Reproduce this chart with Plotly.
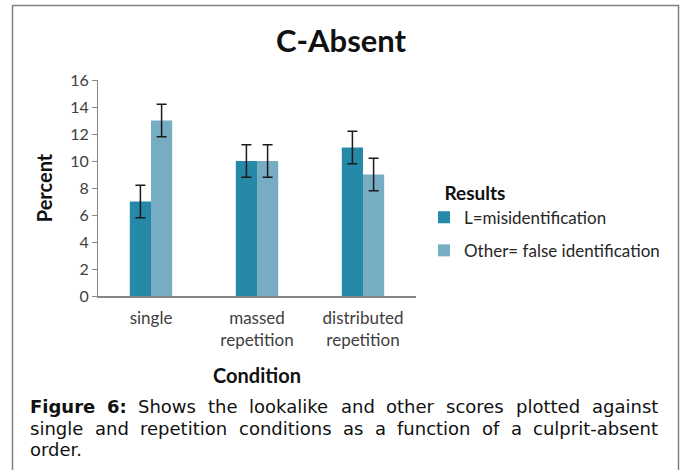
import plotly.graph_objects as go

# ---- data ----
categories = ["single", "massed<br>repetition", "distributed<br>repetition"]
series_names = ["L=misidentification", "Other= false identification"]
l_values = [7, 10, 11]
other_values = [13, 10, 9]
l_errors = [1.2, 1.2, 1.2]
other_errors = [1.2, 1.2, 1.2]
y_ticks = [0, 2, 4, 6, 8, 10, 12, 14, 16]
caption_lines = [
    "**Figure 6:** Shows the lookalike and other scores plotted against",
    "single and repetition conditions as a function of a culprit-absent",
    "order.",
]

W, H = 684, 470
PL, PR, PT, PB = 98, 416, 80, 296  # plot area in pixels


def px_x(x):
    return (x - PL) / (PR - PL)


def px_y(y):
    return (PB - y) / (PB - PT)


fig = go.Figure()
fig.add_trace(go.Bar(
    x=categories, y=l_values, name=series_names[0],
    marker=dict(color="#2689A8", line=dict(width=0)),
    error_y=dict(type="data", array=l_errors, visible=True,
                 color="#1a1a1a", thickness=1.5, width=5),
    legendgroup="a",
))
fig.add_trace(go.Bar(
    x=categories, y=other_values, name=series_names[1],
    marker=dict(color="#77ADC2", line=dict(width=0)),
    error_y=dict(type="data", array=other_errors, visible=True,
                 color="#1a1a1a", thickness=1.5, width=5),
    legendgroup="b",
))

fig.update_layout(
    width=W, height=H,
    margin=dict(l=PL, r=W - PR, t=PT, b=H - PB, autoexpand=False),
    paper_bgcolor="white", plot_bgcolor="white",
    barmode="group", bargap=0.6, bargroupgap=0,
    font=dict(family="Lato", color="#404040"),
    showlegend=True,
    legend=dict(
        x=px_x(424), y=px_y(175), xanchor="left", yanchor="top",
        title=dict(text="<b>&nbsp;&nbsp;&nbsp;&nbsp;Results</b>",
                   font=dict(family="Lato", size=19, color="#111111")),
        font=dict(family="Lato", size=17, color="#262626"),
        tracegroupgap=8, bgcolor="rgba(0,0,0,0)",
    ),
)

fig.update_yaxes(
    range=[0, 16], tickvals=y_ticks, ticks="outside", ticklen=5,
    tickcolor="#868686", showline=True, linecolor="#868686", linewidth=1,
    showgrid=False, zeroline=False,
    tickfont=dict(family="Lato", size=16, color="#404040"),
    title=dict(text="<b>Percent</b>", font=dict(family="Lato", size=20, color="#111111"),
               standoff=12),
)
fig.update_xaxes(
    showline=True, linecolor="#868686", linewidth=1.5, ticks="",
    ticklabelstandoff=6,
    tickfont=dict(family="Lato", size=17, color="#404040"),
    title=dict(text="<b>Condition</b>", font=dict(family="Lato", size=20, color="#111111"),
               standoff=20),
)

# chart title
fig.add_annotation(text="<b>C-Absent</b>", xref="paper", yref="paper",
                   x=px_x(341), y=px_y(40), xanchor="center", yanchor="middle",
                   showarrow=False, font=dict(family="Lato", size=31, color="#111111"))

# outer border
fig.add_shape(type="rect", xref="paper", yref="paper",
              x0=px_x(12.5), x1=px_x(678.5), y0=px_y(490), y1=px_y(5.5),
              line=dict(color="#7f7f7f", width=1.5), fillcolor="rgba(0,0,0,0)")

# ---- caption, justified word by word (approximate DejaVu Sans advance widths, em) ----
REG = dict(a=.613, b=.635, c=.550, d=.635, e=.615, f=.352, g=.635, h=.634, i=.278,
           k=.579, l=.278, m=.974, n=.634, o=.612, p=.635, r=.411, s=.521, t=.392,
           u=.634, w=.818, y=.592, S=.635)
REG["-"] = .361
REG["."] = .318
BOLD = dict(F=.683, i=.343, g=.716, u=.712, r=.493, e=.678)
BOLD["6"] = .696
BOLD[":"] = .400
FS = 18
X0, X1 = 30, 658
line_y = [406, 428, 450]


def word_width(word, bold):
    table = BOLD if bold else REG
    return sum(table.get(ch, .6) for ch in word) * FS


for li, line in enumerate(caption_lines):
    words = []
    bold_part = ""
    rest = line
    if line.startswith("**"):
        end = line.index("**", 2)
        bold_part = line[2:end]
        rest = line[end + 2:]
    for w in bold_part.split():
        words.append((w, True))
    for w in rest.split():
        words.append((w, False))
    widths = [word_width(w, b) for w, b in words]
    last = li == len(caption_lines) - 1
    if last or len(words) < 2:
        gap = 0.318 * FS
    else:
        gap = (X1 - X0 - sum(widths)) / (len(words) - 1)
    x = X0
    for (w, b), wd in zip(words, widths):
        fig.add_annotation(text=f"<b>{w}</b>" if b else w, xref="paper", yref="paper",
                           x=px_x(x), y=px_y(line_y[li]), xanchor="left", yanchor="middle",
                           showarrow=False, borderpad=0, borderwidth=0,
                           font=dict(family="DejaVu Sans", size=FS, color="#111111"))
        x += wd + gap

fig.write_html("out.html", config={"displayModeBar": False},
               post_script="document.body.style.margin='0';document.body.style.overflow='hidden';")
